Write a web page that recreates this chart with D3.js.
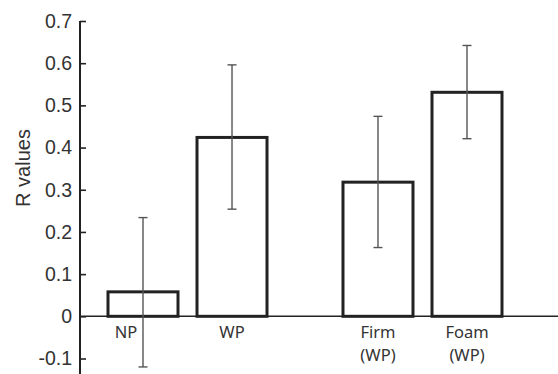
<!DOCTYPE html>
<html>
<head>
<meta charset="utf-8">
<script src="https://cdn.jsdelivr.net/npm/d3@7"></script>
<style>
  body { margin: 0; background: #fff; }
  svg { display: block; }
</style>
</head>
<body>
<div id="chart"></div>
<script>
// data
const categories = ["NP", "WP", "Firm", "Foam"];
const labelLines = [["NP"], ["WP"], ["Firm", "(WP)"], ["Foam", "(WP)"]];
const rValues = [0.058, 0.424, 0.318, 0.531];
const errLow = [-0.12, 0.254, 0.163, 0.421];
const errHigh = [0.234, 0.596, 0.474, 0.642];
const yTicks = [-0.1, 0, 0.1, 0.2, 0.3, 0.4, 0.5, 0.6, 0.7];

const W = 558, H = 374;
const svg = d3.select("#chart").append("svg")
  .attr("width", W)
  .attr("height", H);

const axisX = 80;

// y scale
const y = d3.scaleLinear().domain([-0.1, 0.7]).range([358.5, 21]);

// x: slot index, with a gap between the two pairs
const slot = (i) => i + (i >= 2 ? 0.64 : 0);
const x = d3.scaleLinear().domain([0, slot(3)]).range([143, 467]);
const barW = 70;

// zero line
svg.append("line")
  .attr("x1", axisX).attr("x2", W)
  .attr("y1", y(0)).attr("y2", y(0))
  .attr("stroke", "#222")
  .attr("stroke-width", 1.6);

// bars
svg.append("g")
  .selectAll("rect")
  .data(rValues)
  .join("rect")
  .attr("x", (d, i) => x(slot(i)) - barW / 2)
  .attr("y", (d) => y(d))
  .attr("width", barW)
  .attr("height", (d) => y(0) - y(d))
  .attr("fill", "none")
  .attr("stroke", "#222")
  .attr("stroke-width", 3);

// error bars
const eb = svg.append("g")
  .attr("stroke", "#555")
  .attr("stroke-width", 1.4);
categories.forEach((c, i) => {
  const cx = x(slot(i));
  eb.append("line")
    .attr("x1", cx).attr("x2", cx)
    .attr("y1", y(errHigh[i])).attr("y2", y(errLow[i]));
  [errHigh[i], errLow[i]].forEach((v) => {
    eb.append("line")
      .attr("x1", cx - 4.5).attr("x2", cx + 4.5)
      .attr("y1", y(v)).attr("y2", y(v));
  });
});

// y axis
const yAxis = svg.append("g")
  .attr("transform", `translate(${axisX},0)`)
  .call(d3.axisRight(y).tickValues(yTicks).tickSize(6)
    .tickFormat((d) => (d === 0 ? "0" : d.toFixed(1))));
yAxis.select(".domain").remove();
yAxis.selectAll(".tick line").attr("stroke", "#222").attr("stroke-width", 1.6);
yAxis.selectAll(".tick text")
  .attr("x", -8)
  .attr("text-anchor", "end")
  .attr("fill", "#333")
  .style("font-family", "'Liberation Sans', Arial, sans-serif")
  .style("font-size", "19.5px");
svg.append("line")
  .attr("x1", axisX).attr("x2", axisX)
  .attr("y1", y(0.7)).attr("y2", H)
  .attr("stroke", "#222")
  .attr("stroke-width", 2);

// y title
svg.append("text")
  .attr("transform", `translate(30,168) rotate(-90)`)
  .attr("text-anchor", "middle")
  .attr("fill", "#333")
  .style("font-family", "'Liberation Sans', Arial, sans-serif")
  .style("font-size", "20px")
  .text("R values");

// category labels, one text per line
const lab = svg.append("g")
  .style("font-family", "'Noto Sans', sans-serif")
  .style("font-size", "16.5px")
  .attr("fill", "#333")
  .attr("text-anchor", "middle");
labelLines.forEach((lines, i) => {
  const lx = x(slot(i)) + (i === 0 ? -17 : 0);
  lines.forEach((s, k) => {
    lab.append("text")
      .attr("x", lx)
      .attr("y", 338 + k * 23)
      .text(s);
  });
});
</script>
</body>
</html>
